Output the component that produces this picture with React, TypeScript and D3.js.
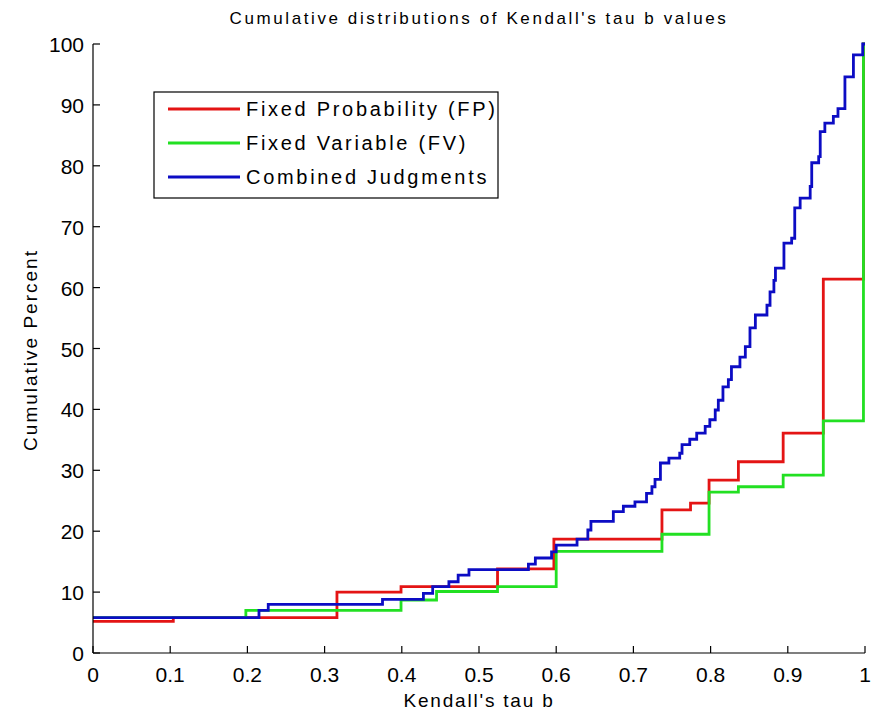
import React from 'react';
import * as d3 from 'd3';

// step data: [tau b, cumulative percent from that x on]
const fpSteps: [number, number][] = [
  [0, 5.2], [0.104, 5.8], [0.316, 10.0], [0.399, 10.9], [0.524, 13.8], [0.597, 18.7],
  [0.737, 23.5], [0.774, 24.6], [0.798, 28.4], [0.836, 31.4], [0.894, 36.1],
  [0.946, 61.4], [0.998, 100], [1, 100],
];

const fvSteps: [number, number][] = [
  [0, 5.8], [0.198, 7.0], [0.399, 8.7], [0.445, 10.1], [0.524, 10.9], [0.6, 16.7],
  [0.737, 19.5], [0.798, 26.4], [0.836, 27.3], [0.894, 29.2], [0.946, 38.1],
  [0.998, 100], [1, 100],
];

const combinedSteps: [number, number][] = [
  [0, 5.8], [0.215, 7.0], [0.227, 8.0], [0.375, 8.8], [0.428, 9.8], [0.44, 10.9],
  [0.461, 11.7], [0.473, 12.8], [0.487, 13.7], [0.564, 14.6], [0.573, 15.6],
  [0.594, 16.6], [0.6, 17.7], [0.627, 18.7], [0.641, 20.2], [0.645, 21.6],
  [0.674, 23.2], [0.687, 24.1], [0.702, 24.8], [0.717, 26.2], [0.724, 27.3],
  [0.728, 28.5], [0.735, 31.2], [0.746, 32.0], [0.76, 32.8], [0.763, 34.2],
  [0.773, 35.1], [0.782, 36.1], [0.793, 37.2], [0.799, 38.3], [0.806, 39.9],
  [0.81, 41.5], [0.816, 43.7], [0.823, 44.9], [0.827, 47.0], [0.838, 48.6],
  [0.845, 50.3], [0.851, 53.4], [0.858, 55.5], [0.873, 57.1], [0.877, 59.3],
  [0.882, 61.2], [0.884, 63.2], [0.895, 67.3], [0.905, 68.1], [0.909, 73.1],
  [0.916, 74.7], [0.929, 76.6], [0.931, 80.5], [0.94, 81.5], [0.942, 85.6],
  [0.948, 87.0], [0.959, 88.1], [0.965, 89.4], [0.974, 94.6], [0.985, 98.2],
  [0.997, 100], [1, 100],
];

const xTicks = [0, 0.1, 0.2, 0.3, 0.4, 0.5, 0.6, 0.7, 0.8, 0.9, 1];
const yTicks = [0, 10, 20, 30, 40, 50, 60, 70, 80, 90, 100];

const series = [
  { name: 'Fixed Probability (FP)', color: '#e41414', data: fpSteps },
  { name: 'Fixed Variable (FV)', color: '#22e022', data: fvSteps },
  { name: 'Combined Judgments', color: '#0c0cc4', data: combinedSteps },
];

const W = 872;
const H = 715;
const margin = { top: 44, right: 7, bottom: 62, left: 93 };
const font = '"Liberation Sans", Arial, sans-serif';

const App: React.FC = () => {
  const x = d3.scaleLinear().domain([0, 1]).range([margin.left, W - margin.right]);
  const y = d3.scaleLinear().domain([0, 100]).range([H - margin.bottom, margin.top]);

  const line = d3.line<[number, number]>()
    .x(d => x(d[0]))
    .y(d => y(d[1]))
    .curve(d3.curveStepAfter);

  const x0 = x(0);
  const y0 = y(0);

  return (
    <div style={{ position: 'absolute', left: 0, top: 0 }}>
      <svg width={W} height={H} style={{ display: 'block', background: '#fff' }} fontFamily={font}>
        {/* title */}
        <text x={479} y={24} textAnchor="middle" fontSize={17} letterSpacing={2.6} fill="#000">
          Cumulative distributions of Kendall's tau b values
        </text>

        {/* lines */}
        {series.map(s => (
          <path key={s.name} d={line(s.data) || ''} fill="none" stroke={s.color}
            strokeWidth={2.8} strokeLinejoin="miter" />
        ))}

        {/* axes */}
        <line x1={x0} x2={x(1)} y1={y0} y2={y0} stroke="#000" strokeWidth={1.2} />
        <line x1={x0} x2={x0} y1={y0} y2={y(100)} stroke="#000" strokeWidth={1.2} />
        {xTicks.map(t => (
          <g key={'x' + t}>
            <line x1={x(t)} x2={x(t)} y1={y0} y2={y0 - 7} stroke="#000" strokeWidth={1.2} />
            <text x={x(t)} y={y0 + 29} textAnchor="middle" fontSize={21} fill="#000">
              {String(t)}
            </text>
          </g>
        ))}
        {yTicks.map(t => (
          <g key={'y' + t}>
            <line x1={x0} x2={x0 + 7} y1={y(t)} y2={y(t)} stroke="#000" strokeWidth={1.2} />
            <text x={x0 - 9} y={y(t) + 8} textAnchor="end" fontSize={21} fill="#000">
              {String(t)}
            </text>
          </g>
        ))}

        {/* axis labels */}
        <text x={479} y={707} textAnchor="middle" fontSize={19} letterSpacing={1.8} fill="#000">
          Kendall's tau b
        </text>
        <text transform="translate(37,350) rotate(-90)" textAnchor="middle" fontSize={19}
          letterSpacing={2} fill="#000">
          Cumulative Percent
        </text>

        {/* legend */}
        <rect x={154} y={92} width={344} height={106} fill="#fff" stroke="#000" strokeWidth={1.2} />
        {series.map((s, i) => (
          <g key={'lg' + s.name}>
            <line x1={168} x2={240} y1={109 + i * 34} y2={109 + i * 34} stroke={s.color} strokeWidth={2.8} />
            <text x={246} y={116 + i * 34} fontSize={20} letterSpacing={2.7} fill="#000">
              {s.name}
            </text>
          </g>
        ))}
      </svg>
    </div>
  );
};

export default App;
